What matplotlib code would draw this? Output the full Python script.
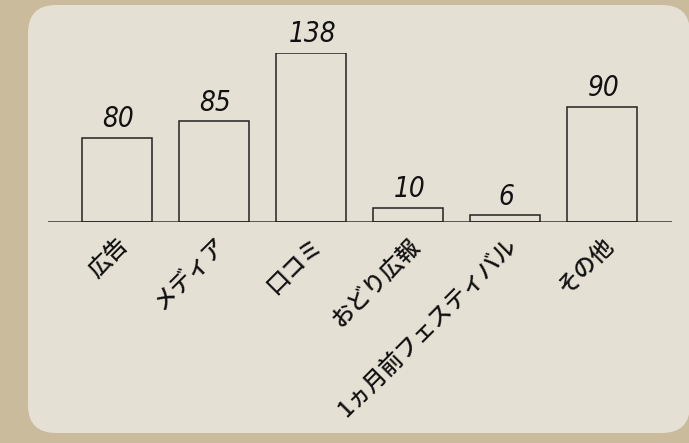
import matplotlib.pyplot as plt
from matplotlib.patches import FancyBboxPatch
from matplotlib.transforms import IdentityTransform

# data
categories = ["広告", "メディア", "口コミ", "おどり広報", "1ヵ月前フェスティバル", "その他"]
counts = [80, 85, 138, 10, 6, 90]
# bar heights as drawn in the picture (same scale as 138)
bar_heights = [68.8, 82.2, 138, 11.9, 5.7, 94.1]

outer_color = "#c9bb9b"
panel_color = "#e5e0d4"

W, H = 689, 443
fig = plt.figure(figsize=(W / 100, H / 100), dpi=100, facecolor=outer_color)

# rounded panel (pixel coordinates, origin bottom-left)
panel = FancyBboxPatch((28, 10), 662, 428, boxstyle="round,pad=0,rounding_size=28",
                       transform=IdentityTransform(), facecolor=panel_color,
                       edgecolor="none", zorder=-10)
fig.add_artist(panel)

base_y = 222.3
top_y = 52.7
ax = fig.add_axes([48 / W, (H - base_y) / H, (672 - 48) / W, (base_y - top_y) / H])
ax.set_facecolor("none")
ax.axis("off")
ax.set_zorder(5)

x = list(range(len(categories)))
ax.bar(x, bar_heights, width=0.722, facecolor="none", edgecolor="#222222",
       linewidth=1.1, zorder=3)
ax.axhline(0, color="#333333", linewidth=1.1, zorder=2)
ax.set_xlim(-0.708, 5.719)
ax.set_ylim(0, 138)

for xi, h, c in zip(x, bar_heights, counts):
    ax.annotate(str(c), xy=(xi, h), xytext=(1, 7.5), textcoords="offset points",
                ha="center", va="baseline", fontsize=20, style="italic",
                fontstretch="condensed", family="DejaVu Sans", color="#111111",
                annotation_clip=False)

jp_font = ["Noto Sans CJK JP", "DejaVu Sans"]
for xi, lab in zip(x, categories):
    ax.annotate(lab, xy=(xi, 0), xytext=(0, -8), textcoords="offset points",
                ha="right", va="top", rotation=45, rotation_mode="anchor",
                fontsize=16.5, fontweight="medium", family=jp_font, color="#111111",
                annotation_clip=False)

fig.savefig("out.png", dpi=100, facecolor=outer_color)
